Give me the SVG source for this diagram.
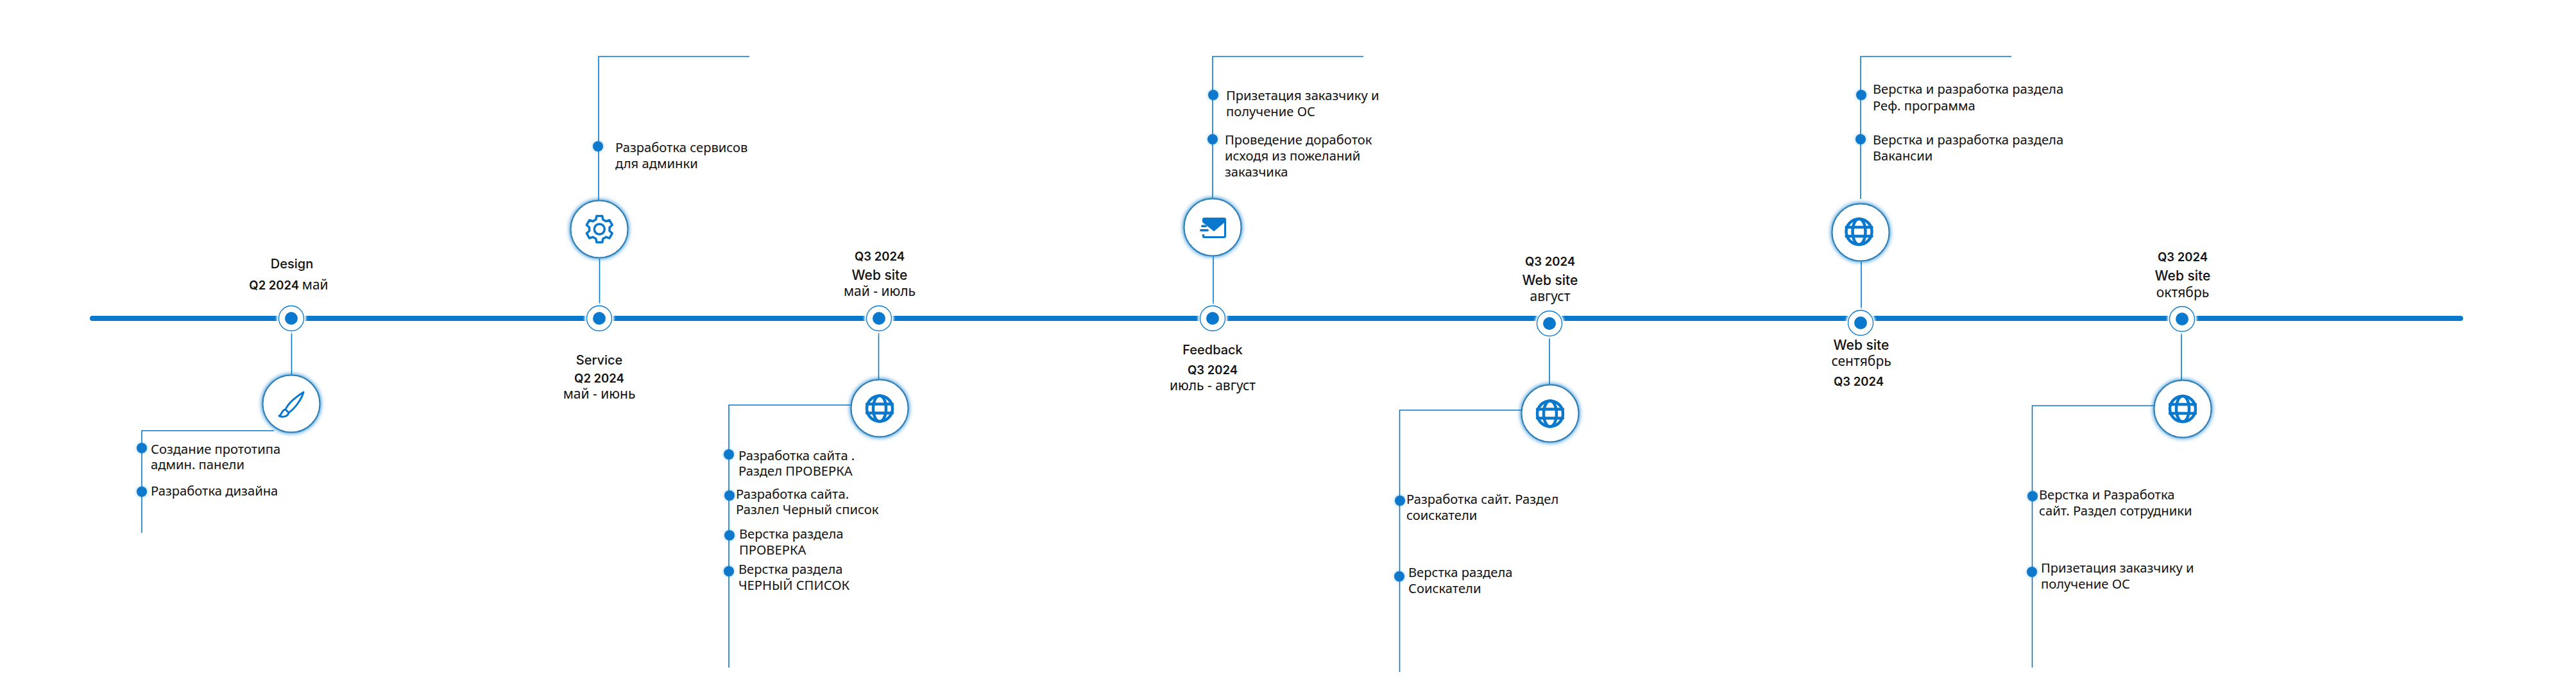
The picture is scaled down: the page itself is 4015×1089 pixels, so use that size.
<svg xmlns="http://www.w3.org/2000/svg" width="4015" height="1089" viewBox="0 0 4015 1089">
<style>
.conn{fill:none;stroke:#0a78cc;stroke-width:1.600}
.main{fill:none;stroke:#0a78cc;stroke-width:8;stroke-linecap:round}
.halo{fill:#fff;filter:url(#soft)}
.ring{fill:#fff;stroke:#0a78cc;stroke-width:1.300}
.core{fill:#0a78cc}
.badge{fill:#fff;stroke:#2f7fb5;stroke-width:2;filter:url(#glow)}
.dot{fill:#0a78cc;filter:url(#glow2)}
.ic{fill:none;stroke:#0a78cc;stroke-linejoin:round;stroke-linecap:round}
.t{font-family:"Inter","Liberation Sans",sans-serif;font-size:20px;font-weight:500;fill:#111;text-anchor:middle}
.w{font-family:"Inter","Liberation Sans",sans-serif;font-size:21px;font-weight:500;fill:#111;text-anchor:middle}
.q{font-family:"Inter","Liberation Sans",sans-serif;font-size:18.500px;font-weight:600;fill:#111;text-anchor:middle}
.m{font-family:"Noto Sans","Liberation Sans",sans-serif;font-size:21px;fill:#111;text-anchor:middle}
.mm{font-family:"Noto Sans","Liberation Sans",sans-serif;font-size:21px;font-weight:400}
.i{font-family:"Noto Sans","Liberation Sans",sans-serif;font-size:20.200px;fill:#111}
</style>
<defs>
<filter id="soft" x="-50%" y="-50%" width="200%" height="200%"><feGaussianBlur stdDeviation="1.5"/></filter>
<filter id="glow" x="-30%" y="-30%" width="160%" height="160%"><feDropShadow dx="0" dy="0" stdDeviation="3.500" flood-color="#0a78cc" flood-opacity="1"/></filter>
<filter id="glow2" x="-60%" y="-60%" width="220%" height="220%"><feDropShadow dx="0" dy="0" stdDeviation="2.500" flood-color="#0a78cc" flood-opacity="0.45"/></filter>
<g id="globe">
<circle r="20" class="ic" stroke-width="4.500"/>
<ellipse rx="10" ry="20" class="ic" stroke-width="4.500"/>
<path d="M-20 -7H20M-20 7H20" class="ic" stroke-width="4.500" stroke-linecap="butt"/>
</g>
</defs>

<g id="connectors">
<path class="main" d="M144 496H3835"/>
<path class="conn" d="M454.500 517V590M427 671H221V830"/>
<path class="conn" d="M934.500 403V473M933 312V88H1168"/>
<path class="conn" d="M1369.500 518V592M1326 631H1136V1040"/>
<path class="conn" d="M1891 400V475M1890 309V88H2125"/>
<path class="conn" d="M2415 526V600M2371 639H2181.500V1047"/>
<path class="conn" d="M2901 407.500V482.500M2900 310V88H3135"/>
<path class="conn" d="M3400 519V594M3357 632H3167.500V1040"/>
</g>

<g id="node-design">
<circle class="halo" cx="454" cy="496" r="23"/><circle class="ring" cx="454" cy="496" r="19.500"/><circle class="core" cx="454" cy="496" r="10"/>
<circle class="badge" cx="454" cy="629" r="44.500"/>
<path class="ic" stroke-width="3" d="M473 611C462 618 449 628 445 638L450 643C460 636 470 622 473 611ZM445 638C439 638 440 646 435 648C440 650 448 650 450 643"/>
<text class="t" x="455" y="418">Design</text>
<text class="q" x="450" y="451">Q2 2024 <tspan class="mm">май</tspan></text>
<circle class="dot" cx="221" cy="698" r="8"/><circle class="dot" cx="221" cy="766" r="8"/>
<text class="i" y="707"><tspan x="235">Создание прототипа</tspan><tspan x="235" y="731">админ. панели</tspan></text>
<text class="i" x="235" y="772">Разработка дизайна</text>
</g>

<g id="node-service">
<circle class="halo" cx="934" cy="496" r="23"/><circle class="ring" cx="934" cy="496" r="19.500"/><circle class="core" cx="934" cy="496" r="10"/>
<circle class="badge" cx="934" cy="357" r="44.500"/>
<g transform="translate(934.300 357)"><path class="ic" stroke-width="3.500" d="M-5.470 -15.040L-4.370 -20.540L4.370 -20.540L5.470 -15.040L10.290 -12.260L15.600 -14.050L19.970 -6.490L15.760 -2.780L15.760 2.780L19.970 6.490L15.600 14.050L10.290 12.260L5.470 15.040L4.370 20.540L-4.370 20.540L-5.470 15.040L-10.290 12.260L-15.600 14.050L-19.970 6.490L-15.760 2.780L-15.760 -2.780L-19.970 -6.490L-15.600 -14.050L-10.290 -12.260Z"/><circle class="ic" stroke-width="3.500" r="8"/></g>
<circle class="dot" cx="932" cy="228" r="8"/>
<text class="i" y="236.500"><tspan x="959">Разработка сервисов</tspan><tspan x="959" y="262">для админки</tspan></text>
<text class="t" x="934" y="567.500">Service</text>
<text class="q" x="934" y="596">Q2 2024</text>
<text class="m" x="934" y="621">май - июнь</text>
</g>

<g id="node-web1">
<circle class="halo" cx="1370" cy="496" r="23"/><circle class="ring" cx="1370" cy="496" r="19.500"/><circle class="core" cx="1370" cy="496" r="10"/>
<circle class="badge" cx="1371" cy="636" r="44.500"/>
<use href="#globe" x="1371" y="636.500"/>
<text class="q" x="1371" y="406">Q3 2024</text>
<text class="w" x="1371" y="436">Web site</text>
<text class="m" x="1371" y="461">май - июль</text>
<circle class="dot" cx="1136" cy="708" r="8"/><circle class="dot" cx="1137" cy="772" r="8"/><circle class="dot" cx="1137" cy="834" r="8"/><circle class="dot" cx="1136" cy="890" r="8"/>
<text class="i" y="716.500"><tspan x="1151">Разработка сайта .</tspan><tspan x="1151" y="741">Раздел ПРОВЕРКА</tspan></text>
<text class="i" y="776.500"><tspan x="1147">Разработка сайта.</tspan><tspan x="1147" y="801">Разлел Черный список</tspan></text>
<text class="i" y="839"><tspan x="1152">Верстка раздела</tspan><tspan x="1152" y="863.500">ПРОВЕРКА</tspan></text>
<text class="i" y="894"><tspan x="1151">Верстка раздела</tspan><tspan x="1151" y="919">ЧЕРНЫЙ СПИСОК</tspan></text>
</g>

<g id="node-feedback">
<circle class="halo" cx="1890" cy="496" r="23"/><circle class="ring" cx="1890" cy="496" r="19.500"/><circle class="core" cx="1890" cy="496" r="10"/>
<circle class="badge" cx="1890" cy="354" r="44.500"/>
<path class="core" d="M1877 339H1908A3 3 0 0 1 1911 342V368A3 3 0 0 1 1908 371H1877A3 3 0 0 1 1874 368V365H1877V368H1908V347L1892 360.500L1874 346V342A3 3 0 0 1 1877 339Z"/>
<rect class="core" x="1872" y="350.500" width="9" height="3.500" rx="1.700"/><rect class="core" x="1870" y="357" width="14" height="3.500" rx="1.700"/>
<circle class="dot" cx="1891" cy="148" r="8"/><circle class="dot" cx="1890" cy="217" r="8"/>
<text class="i" y="156"><tspan x="1911">Призетация заказчику и</tspan><tspan x="1911" y="181">получение ОС</tspan></text>
<text class="i" y="225"><tspan x="1909">Проведение доработок</tspan><tspan x="1909" y="250">исходя из пожеланий</tspan><tspan x="1909" y="275">заказчика</tspan></text>
<text class="t" x="1890" y="552">Feedback</text>
<text class="q" x="1890" y="583">Q3 2024</text>
<text class="m" x="1890" y="607.500">июль - август</text>
</g>

<g id="node-web2">
<circle class="halo" cx="2415" cy="504" r="23"/><circle class="ring" cx="2415" cy="504" r="19.500"/><circle class="core" cx="2415" cy="504" r="10"/>
<circle class="badge" cx="2416" cy="644" r="44.500"/>
<use href="#globe" x="2416" y="644.500"/>
<text class="q" x="2416" y="413.500">Q3 2024</text>
<text class="w" x="2416" y="444">Web site</text>
<text class="m" x="2416" y="469">август</text>
<circle class="dot" cx="2182" cy="780" r="8"/><circle class="dot" cx="2181" cy="898" r="8"/>
<text class="i" y="785"><tspan x="2192">Разработка сайт. Раздел</tspan><tspan x="2192" y="809.500">соискатели</tspan></text>
<text class="i" y="899"><tspan x="2195">Верстка раздела</tspan><tspan x="2195" y="923.500">Соискатели</tspan></text>
</g>

<g id="node-web3">
<circle class="halo" cx="2900" cy="503" r="23"/><circle class="ring" cx="2900" cy="503" r="19.500"/><circle class="core" cx="2900" cy="503" r="10"/>
<circle class="badge" cx="2900" cy="362" r="44.500"/>
<use href="#globe" x="2897.500" y="361"/>
<circle class="dot" cx="2901" cy="148" r="8"/><circle class="dot" cx="2900" cy="217" r="8"/>
<text class="i" y="146"><tspan x="2919">Верстка и разработка раздела</tspan><tspan x="2919" y="171.500">Реф. программа</tspan></text>
<text class="i" y="225"><tspan x="2919">Верстка и разработка раздела</tspan><tspan x="2919" y="250">Вакансии</tspan></text>
<text class="w" x="2901" y="545">Web site</text>
<text class="m" x="2901" y="570">сентябрь</text>
<text class="q" x="2897" y="601">Q3 2024</text>
</g>

<g id="node-web4">
<circle class="halo" cx="3401" cy="497" r="23"/><circle class="ring" cx="3401" cy="497" r="19.500"/><circle class="core" cx="3401" cy="497" r="10"/>
<circle class="badge" cx="3402" cy="637" r="44.500"/>
<use href="#globe" x="3402" y="637"/>
<text class="q" x="3402" y="407">Q3 2024</text>
<text class="w" x="3402" y="437">Web site</text>
<text class="m" x="3402" y="462.500">октябрь</text>
<circle class="dot" cx="3168" cy="773" r="8"/><circle class="dot" cx="3167" cy="891" r="8"/>
<text class="i" y="778"><tspan x="3178">Верстка и Разработка</tspan><tspan x="3178" y="802.500">сайт. Раздел сотрудники</tspan></text>
<text class="i" y="892"><tspan x="3181">Призетация заказчику и</tspan><tspan x="3181" y="917">получение ОС</tspan></text>
</g>
</svg>
